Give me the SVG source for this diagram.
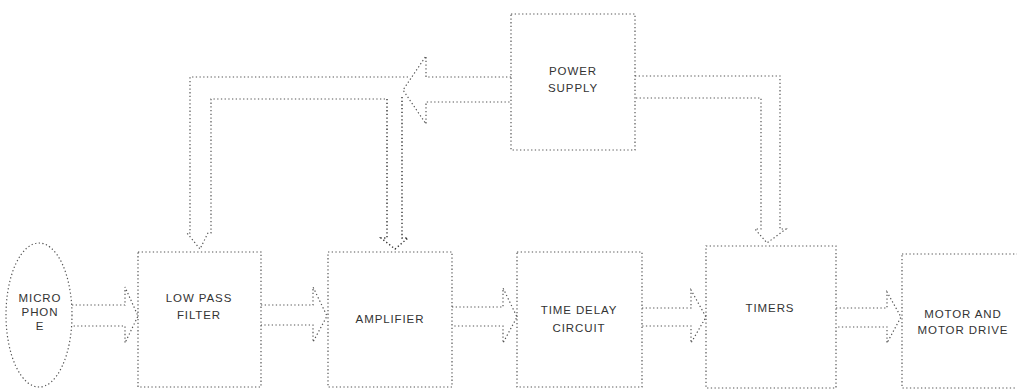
<svg xmlns="http://www.w3.org/2000/svg" width="1017" height="389" viewBox="0 0 1017 389">
<style>
.b{fill:none;stroke:#555;stroke-width:1.2;stroke-dasharray:1.3 2.4}
.c{fill:none;stroke:#555;stroke-width:1.2;stroke-dasharray:1.3 2.4;stroke-linejoin:miter}
.t{font-family:"Liberation Sans",Arial,sans-serif;font-size:11.5px;fill:#333;text-anchor:middle;letter-spacing:0.9px}
</style>
<rect width="1017" height="389" fill="#fff"/>
<g id="connectors">
<path class="c" d="M72,305 H125 V287 L138,316 L125,343 V326 H72"/>
<path class="c" d="M261,305 H313 V287 L327,316 L313,342 V325 H261"/>
<path class="c" d="M452,307 H503 V288 L517,317 L503,343 V326 H452"/>
<path class="c" d="M642,308 H691 V290 L706,317 L691,343 V326 H642"/>
<path class="c" d="M836,308 H887 V292 L901,317 L887,343 V327 H836"/>
<path class="c" d="M511,77 H426 V56 L403,90 L426,124 V102 H511"/>
<path class="c" d="M408,77 H190 V233 H187 L200,249 L208,233 H211 V99 H387"/>
<path class="c" d="M387,99 V238 H381 L395,249 L408,238 H402 V96" style="stroke:#333;stroke-width:1.4"/>
<path class="c" d="M635,76 H780 V229 H786 L767,243 L755,229 H761 V98 H635"/>
</g>
<g id="mic">
<ellipse class="b" cx="39" cy="315" rx="33" ry="72"/>
<text class="t" x="40" y="302">MICRO</text>
<text class="t" x="40" y="316">PHON</text>
<text class="t" x="40" y="330">E</text>
</g>
<g id="lpf">
<rect class="b" x="138" y="252" width="123" height="135"/>
<text class="t" x="199" y="302">LOW PASS</text>
<text class="t" x="199" y="319">FILTER</text>
</g>
<g id="amp">
<rect class="b" x="328" y="252" width="124" height="135"/>
<text class="t" x="390" y="323">AMPLIFIER</text>
</g>
<g id="tdc">
<rect class="b" x="517" y="252" width="125" height="135"/>
<text class="t" x="579" y="314">TIME DELAY</text>
<text class="t" x="579" y="332">CIRCUIT</text>
</g>
<g id="timers">
<rect class="b" x="706" y="246" width="130" height="142"/>
<text class="t" x="770" y="312">TIMERS</text>
</g>
<g id="motor">
<rect class="b" x="902" y="254" width="130" height="134"/>
<text class="t" x="963" y="318">MOTOR AND</text>
<text class="t" x="963" y="334">MOTOR DRIVE</text>
</g>
<g id="ps">
<rect class="b" x="511" y="14" width="124" height="136"/>
<text class="t" x="573" y="75">POWER</text>
<text class="t" x="573" y="92">SUPPLY</text>
</g>
</svg>
